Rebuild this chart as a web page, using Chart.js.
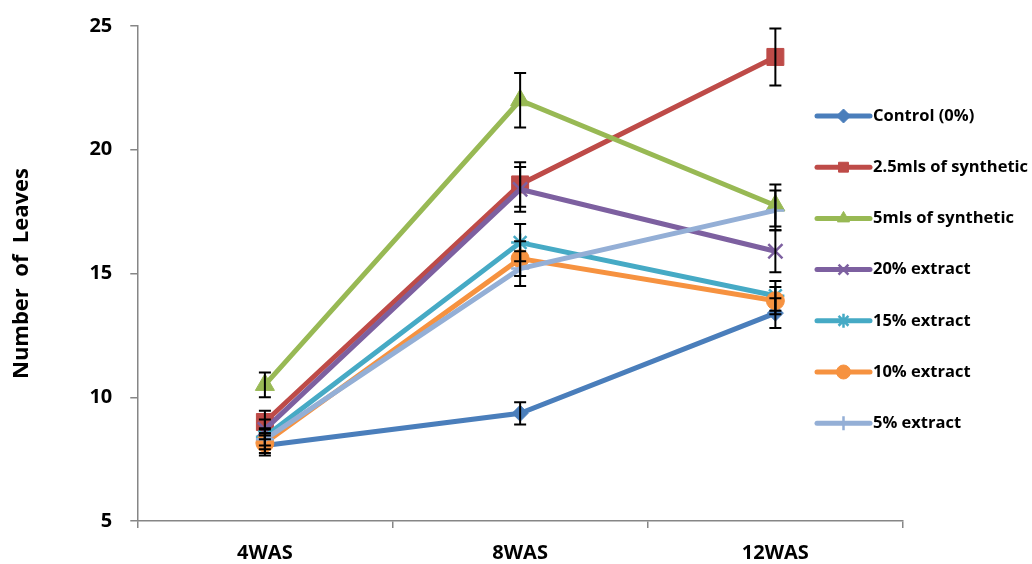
<!DOCTYPE html>
<html>
<head>
<meta charset="utf-8">
<script src="https://cdn.jsdelivr.net/npm/chart.js@4.4.1/dist/chart.umd.min.js"></script>
<style>
  html, body { margin: 0; padding: 0; background: #fff; }
  #wrap { width: 1032px; height: 564px; }
</style>
</head>
<body>
<div id="wrap"><canvas id="chart" width="1032" height="564"></canvas></div>
<script>
// Chart data
const weeks = ['4WAS', '8WAS', '12WAS'];
const seriesNames = ['Control (0%)', '2.5mls of synthetic', '5mls of synthetic', '20% extract', '15% extract', '10% extract', '5% extract'];

const control = [8.05, 9.35, 13.4];
const synth25 = [9.0, 18.6, 23.75];
const synth5 = [10.5, 22.0, 17.75];
const extract20 = [8.7, 18.4, 15.9];
const extract15 = [8.4, 16.25, 14.1];
const extract10 = [8.15, 15.6, 13.9];
const extract5 = [8.3, 15.2, 17.55];

const errControl = [0.4, 0.45, 0.6];
const errSynth25 = [0.45, 0.9, 1.15];
const errSynth5 = [0.5, 1.1, 0.85];
const errExtract20 = [0.4, 0.9, 0.85];
const errExtract15 = [0.35, 0.75, 0.6];
const errExtract10 = [0.4, 0.7, 0.55];
const errExtract5 = [0.4, 0.7, 0.8];

const yTicks = [5, 10, 15, 20, 25];

const colors = ['#4A7EBB', '#BE4B48', '#98B954', '#7D60A0', '#46AAC5', '#F69240', '#94AFD6'];
const markers = ['rectRot', 'rect', 'triangle', 'crossRot', 'star', 'circle', 'cross'];
const markerSize = [8, 12, 11, 10, 9, 9, 9];

const values = [control, synth25, synth5, extract20, extract15, extract10, extract5];
const errors = [errControl, errSynth25, errSynth5, errExtract20, errExtract15, errExtract10, errExtract5];

const FONT = '"Open Sans", Lato, sans-serif';

// Build datasets
const datasets = seriesNames.map((name, i) => ({
    label: name,
    data: values[i],
    errors: errors[i],
    borderColor: colors[i],
    backgroundColor: colors[i],
    borderWidth: 5,
    tension: 0,
    pointStyle: markers[i],
    pointRadius: markerSize[i],
    pointHoverRadius: markerSize[i],
    pointBorderWidth: (markers[i] === 'crossRot' || markers[i] === 'star' || markers[i] === 'cross') ? 2.5 : 1,
    pointBorderColor: colors[i],
    pointBackgroundColor: colors[i],
    order: seriesNames.length - i
}));

// Error bars drawn through the y scale
const errorBars = {
    id: 'errorBars',
    afterDatasetsDraw(chart) {
        const ctx = chart.ctx;
        const yScale = chart.scales.y;
        ctx.save();
        ctx.strokeStyle = '#000';
        ctx.lineWidth = 2;
        chart.data.datasets.forEach((ds, i) => {
            const meta = chart.getDatasetMeta(i);
            meta.data.forEach((pt, j) => {
                const v = ds.data[j], e = ds.errors[j];
                const top = yScale.getPixelForValue(v + e);
                const bot = yScale.getPixelForValue(v - e);
                const x = pt.x;
                ctx.beginPath();
                ctx.moveTo(x, top); ctx.lineTo(x, bot);
                ctx.moveTo(x - 6, top); ctx.lineTo(x + 6, top);
                ctx.moveTo(x - 6, bot); ctx.lineTo(x + 6, bot);
                ctx.stroke();
            });
        });
        ctx.restore();
    }
};

// Legend with line + marker samples
const sideLegend = {
    id: 'sideLegend',
    afterDraw(chart) {
        const ctx = chart.ctx;
        const x0 = 817, x1 = 870, y0 = 116, step = 51.2;
        ctx.save();
        chart.data.datasets.forEach((ds, i) => {
            const y = y0 + i * step;
            ctx.strokeStyle = ds.borderColor;
            ctx.lineWidth = 5;
            ctx.lineCap = 'round';
            ctx.beginPath();
            ctx.moveTo(x0, y); ctx.lineTo(x1, y);
            ctx.stroke();
            ctx.lineCap = 'butt';
            ctx.lineWidth = ds.pointBorderWidth;
            ctx.fillStyle = ds.backgroundColor;
            Chart.helpers.drawPoint(ctx, { pointStyle: ds.pointStyle, radius: Math.min(ds.pointRadius, 7), rotation: 0, borderWidth: ds.pointBorderWidth }, (x0 + x1) / 2, y);
            ctx.fillStyle = '#000';
            ctx.font = 'bold 16.5px ' + FONT;
            ctx.textBaseline = 'middle';
            ctx.textAlign = 'left';
            ctx.fillText(ds.label, x1 + 3, y);
        });
        ctx.restore();
    }
};

new Chart(document.getElementById('chart').getContext('2d'), {
    type: 'line',
    data: { labels: weeks, datasets },
    options: {
        responsive: false,
        animation: false,
        layout: { padding: { top: 26, right: 129, bottom: -14, left: 9 } },
        plugins: {
            legend: { display: false },
            tooltip: { enabled: false }
        },
        scales: {
            x: {
                offset: true,
                grid: { display: true, drawOnChartArea: false, offset: true, tickLength: 7, color: '#868686', lineWidth: 1.5 },
                border: { color: '#868686', width: 1.5 },
                ticks: { color: '#000', font: { family: FONT, size: 20, weight: 'bold' }, padding: 13 }
            },
            y: {
                min: 5,
                max: 25,
                afterBuildTicks(axis) { axis.ticks = yTicks.map(v => ({ value: v })); },
                grid: { display: true, drawOnChartArea: false, tickLength: 7, color: '#868686', lineWidth: 1.5 },
                border: { color: '#868686', width: 1.5 },
                ticks: { color: '#000', font: { family: FONT, size: 20, weight: 'bold', lineHeight: 0.8 }, padding: 18 },
                title: {
                    display: true,
                    text: 'Number  of  Leaves',
                    color: '#000',
                    font: { family: FONT, size: 22, weight: 'bold' },
                    padding: { top: 0, bottom: 36 }
                }
            }
        }
    },
    plugins: [errorBars, sideLegend]
});
</script>
</body>
</html>
